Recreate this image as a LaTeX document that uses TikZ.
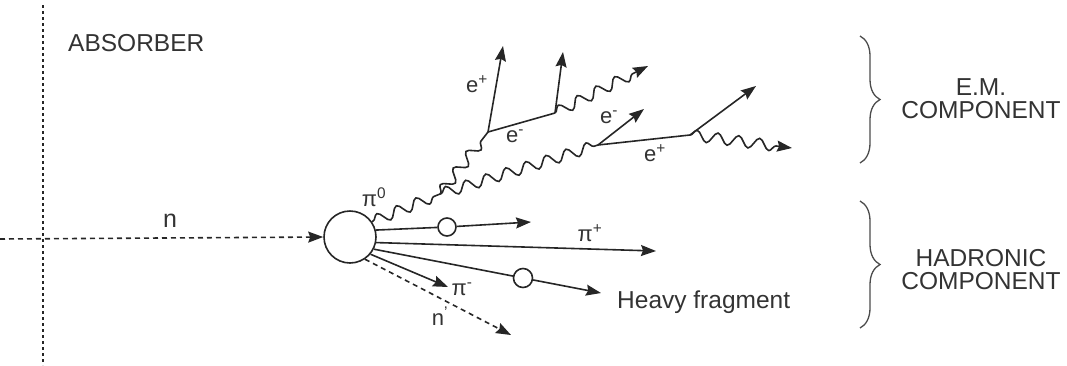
\documentclass[tikz,border=0pt]{standalone}
\usepackage{fontspec}
\setmainfont{Liberation Sans}
\usetikzlibrary{decorations.pathmorphing,decorations.pathreplacing,arrows.meta}
\begin{document}
\begin{tikzpicture}[x=1pt,y=-1pt,
  ln/.style={draw=black!85, line width=1.6pt},
  tip/.style={-{Stealth[length=15pt,width=11pt,inset=2pt]}},
  ptc/.style={ln, tip},
  photon/.style={ln, decorate, decoration={snake, amplitude=5.5pt, segment length=21pt, pre length=1pt, post length=3pt}},
  photonarrow/.style={ln, tip, decorate, decoration={snake, amplitude=5.5pt, segment length=21pt, post length=12pt}},
  dashedln/.style={draw=black!85, line width=1.6pt, dash pattern=on 5pt off 4pt},
  ring/.style={draw=black!85, line width=1.6pt, circle, inner sep=0pt, fill=white},
  lbl/.style={text=black!80, inner sep=0pt, font=\fontsize{22}{24}\selectfont},
  big/.style={text=black!80, inner sep=0pt, font=\fontsize{24.5}{23}\selectfont, align=center},
  brc/.style={draw=black!70, line width=1.3pt, decorate, decoration={brace, amplitude=20pt}}
]
\useasboundingbox (0,0) rectangle (1067,365);

% absorber boundary
\coordinate (AT) at (43,5);
\coordinate (AB) at (43,365);
\draw[draw=black!85, line width=1.8pt, dash pattern=on 3pt off 3pt] (AT) -- (AB);
\node[big, anchor=west] (absorber) at (68,43) {ABSORBER};

% interaction vertex
\node[ring, minimum size=52pt] (C) at (350,237) {};

% incoming neutron
\coordinate (IN) at (0,239);
\draw[dashedln, tip] (IN) -- (C.west);
\node[lbl, font=\fontsize{25}{27}\selectfont] (nin) at (170,221) {n};

% hadronic component
\node[ring, minimum size=18pt] (s1) at (447,227) {};
\node[ring, minimum size=19pt] (s2) at (523,278) {};
\coordinate (h1) at (531,222);
\coordinate (h2) at (656,251);
\coordinate (h3) at (601,293);
\coordinate (h4) at (448,287);
\coordinate (h5) at (511,335);
\draw[ln] (C.15) -- (s1);
\draw[ptc] (s1) -- (h1);
\draw[ptc] (C.-12) -- (h2);
\draw[ln] (C.-27) -- (s2);
\draw[ptc] (s2) -- (h3);
\draw[ptc] (C.-40) -- (h4);
\draw[dashedln, tip] (C.-56) -- (h5);
\node[lbl] (piplus) at (590,233) {π\textsuperscript{+}};
\node[lbl] (piminus) at (462,289) {π\textsuperscript{-}};
\node[lbl] (nout) at (440,316) {n\textsuperscript{'}};
\node[big, anchor=base west] (heavy) at (617,308) {Heavy fragment};

% electromagnetic component
\node[lbl] (pizero) at (374,197) {π\textsuperscript{0}};
\coordinate (G) at (440,194);
\coordinate (V1) at (488,132);
\coordinate (V2) at (555,113);
\coordinate (V3) at (598,145);
\coordinate (V4) at (690,135);
\coordinate (e1) at (503,46);
\coordinate (e2) at (563,52);
\coordinate (g1) at (648,66);
\coordinate (e3) at (644,109);
\coordinate (e4) at (756,86);
\coordinate (g2) at (792,148);
\draw[photon] (C.35) -- (G);
\draw[photon] (G) -- (V1);
\draw[photon] (G) -- (V3);
\draw[ptc] (V1) -- (e1);
\draw[ln] (V1) -- (V2);
\draw[ptc] (V2) -- (e2);
\draw[photonarrow] (V2) -- (g1);
\draw[ptc] (V3) -- (e3);
\draw[ln] (V3) -- (V4);
\draw[ptc] (V4) -- (e4);
\draw[photonarrow] (V4) -- (g2);
\node[lbl] (lab1) at (477,84) {e\textsuperscript{+}};
\node[lbl] (lab2) at (515,136) {e\textsuperscript{-}};
\node[lbl] (lab3) at (609,117) {e\textsuperscript{-}};
\node[lbl] (lab4) at (655,153) {e\textsuperscript{+}};

% braces
\coordinate (b1t) at (860,36);
\coordinate (b1b) at (860,163);
\coordinate (b2t) at (860,201);
\coordinate (b2b) at (860,328);
\draw[brc] (b1t) -- (b1b);
\draw[brc] (b2t) -- (b2b);
\node[big] (em) at (981,99) {E.M.\\COMPONENT};
\node[big] (had) at (981,270) {HADRONIC\\COMPONENT};
\end{tikzpicture}
\end{document}
